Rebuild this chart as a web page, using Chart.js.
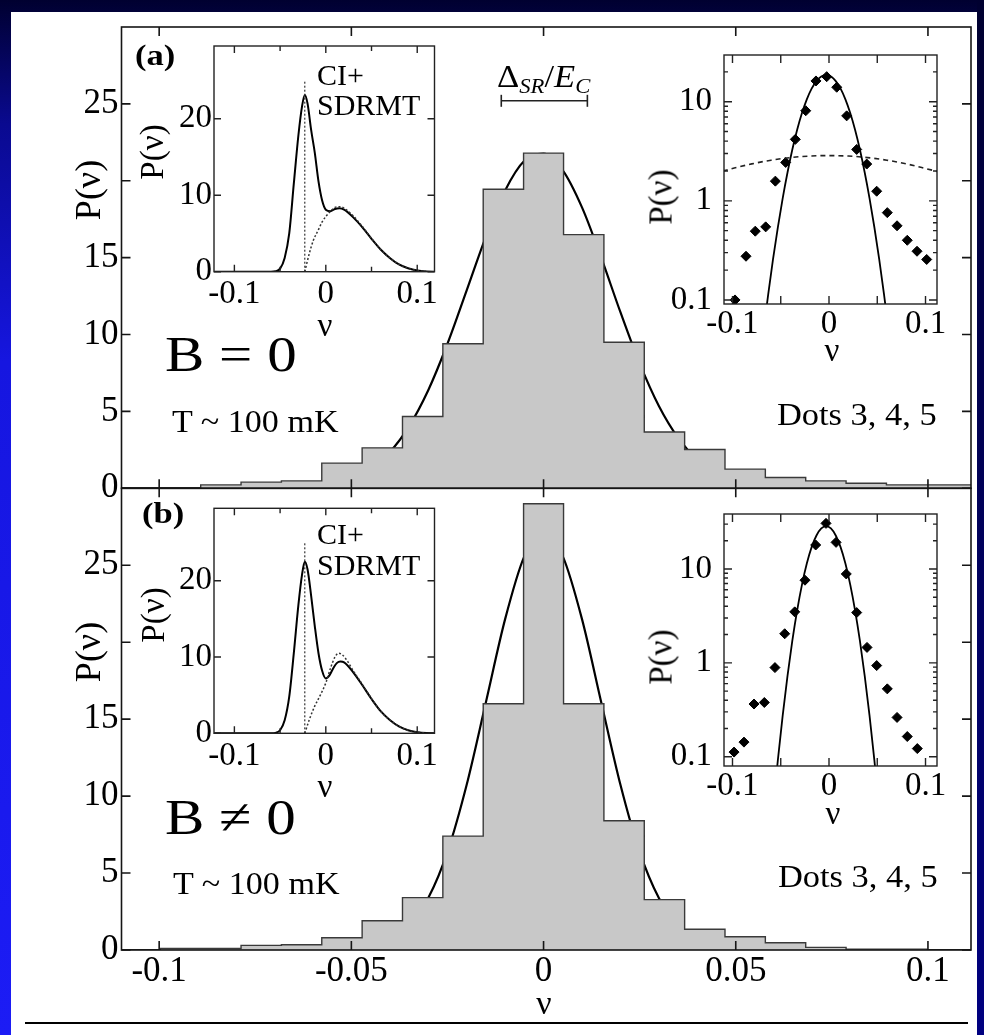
<!DOCTYPE html>
<html><head><meta charset="utf-8">
<script src="https://cdn.jsdelivr.net/npm/chart.js@4.4.1/dist/chart.umd.min.js"></script>
<style>
html,body{margin:0;padding:0;background:#000033;}
#page{position:relative;width:984px;height:1035px;overflow:hidden;background:linear-gradient(180deg,#000030 0%,#0a0a90 12%,#1616e0 35%,#1c1cf5 100%);}
#rstrip{position:absolute;left:977px;top:0;width:7px;height:1035px;background:linear-gradient(180deg,#000030 0%,#00005a 50%,#000080 100%);}
#white{position:absolute;left:11px;top:12px;width:966px;height:1023px;background:#fff;}
canvas{position:absolute;left:0;top:0;}
.t{position:absolute;white-space:nowrap;line-height:1;font-family:'Liberation Serif','Times New Roman',serif;color:#000;transform-origin:0 0;}
.c{position:absolute;white-space:nowrap;line-height:1;font-family:'Liberation Serif','Times New Roman',serif;color:#000;}
#rule{position:absolute;left:25px;top:1022px;width:943px;height:2px;background:#000;}
</style></head><body>
<div id="page">
<div id="rstrip"></div>
<div id="white"></div>
<div id="rule"></div>
<canvas id="mainA" width="984" height="1035"></canvas>
<canvas id="mainB" width="984" height="1035"></canvas>
<canvas id="inLA" width="984" height="1035"></canvas>
<canvas id="inRA" width="984" height="1035"></canvas>
<canvas id="inLB" width="984" height="1035"></canvas>
<canvas id="inRB" width="984" height="1035"></canvas>

<div class="t" style="left:135px;top:40px;font-size:30px;font-weight:bold;transform:scaleX(1.15)">(a)</div>
<div class="t" style="left:142px;top:498px;font-size:30px;font-weight:bold;transform:scaleX(1.15)">(b)</div>
<div class="t" style="left:317px;top:60px;font-size:30px">CI+</div>
<div class="t" style="left:317px;top:90px;font-size:30px">SDRMT</div>
<div class="t" style="left:317px;top:519px;font-size:30px">CI+</div>
<div class="t" style="left:317px;top:550px;font-size:30px">SDRMT</div>
<div class="t" style="left:165px;top:329px;font-size:50px;transform:scaleX(1.18)">B = 0</div>
<div class="t" style="left:165px;top:792px;font-size:50px;transform:scaleX(1.18)">B ≠ 0</div>
<div class="t" style="left:172px;top:406px;font-size:31px;transform:scaleX(1.1)">T ~ 100 mK</div>
<div class="t" style="left:173px;top:868px;font-size:31px;transform:scaleX(1.1)">T ~ 100 mK</div>
<div class="t" style="left:777px;top:399px;font-size:31px;transform:scaleX(1.11)">Dots 3, 4, 5</div>
<div class="t" style="left:778px;top:861px;font-size:31px;transform:scaleX(1.11)">Dots 3, 4, 5</div>
<div class="t" style="left:497px;top:60px;font-size:32px;transform:scaleX(1.08)">Δ<sub style="font-size:21px;font-style:italic;vertical-align:-6px">SR</sub>/<i>E</i><sub style="font-size:21px;font-style:italic;vertical-align:-6px">C</sub></div>

<div class="c" style="left:88px;top:190px;font-size:36px;transform:translate(-50%,-50%) rotate(-90deg)">P(ν)</div>
<div class="c" style="left:88px;top:652px;font-size:36px;transform:translate(-50%,-50%) rotate(-90deg)">P(ν)</div>
<div class="c" style="left:152px;top:152px;font-size:33px;transform:translate(-50%,-50%) rotate(-90deg)">P(ν)</div>
<div class="c" style="left:153px;top:615px;font-size:33px;transform:translate(-50%,-50%) rotate(-90deg)">P(ν)</div>
<div class="c" style="left:661px;top:197px;font-size:33px;transform:translate(-50%,-50%) rotate(-90deg)">P(ν)</div>
<div class="c" style="left:661px;top:657px;font-size:33px;transform:translate(-50%,-50%) rotate(-90deg)">P(ν)</div>
<div class="c" style="left:544px;top:1003px;font-size:34px;transform:translate(-50%,-50%)">ν</div>
<div class="c" style="left:325px;top:325px;font-size:33px;transform:translate(-50%,-50%)">ν</div>
<div class="c" style="left:325px;top:786px;font-size:33px;transform:translate(-50%,-50%)">ν</div>
<div class="c" style="left:832px;top:350px;font-size:33px;transform:translate(-50%,-50%)">ν</div>
<div class="c" style="left:833px;top:813px;font-size:33px;transform:translate(-50%,-50%)">ν</div>
</div>

<script>
// ---------------- DATA ----------------
// histogram bin edges (shared by both panels)
const binEdges = [-0.1102, -0.0997, -0.0892, -0.0787, -0.0682, -0.0577, -0.0472, -0.0367, -0.0262, -0.0157, -0.0052,
                  0.0052, 0.0157, 0.0262, 0.0367, 0.0472, 0.0577, 0.0682, 0.0787, 0.0892, 0.0997, 0.1112];
const histA = [0.04, 0.04, 0.22, 0.40, 0.48, 1.64, 2.63, 4.67, 9.4, 19.45, 21.8, 16.5, 9.5, 3.66, 2.52, 1.25, 0.70, 0.48, 0.33, 0.22, 0.22];
const histB = [0, 0.1, 0.1, 0.3, 0.34, 0.8, 1.9, 3.4, 7.4, 16.0, 29.0, 16.0, 8.4, 3.27, 1.35, 0.86, 0.47, 0.17, 0.06, 0.06, 0];

// fitted curves in main panels
const gaussAX = [-0.11, -0.075, -0.07, -0.065, -0.06, -0.055, -0.05, -0.045, -0.04, -0.035, -0.03, -0.025, -0.02, -0.015, -0.01, -0.005, 0, 0.005, 0.01, 0.015, 0.02, 0.025, 0.03, 0.035, 0.04, 0.045, 0.05, 0.055, 0.06, 0.065, 0.07, 0.075, 0.111];
const gaussAY = [0, 0.005, 0.021, 0.055, 0.135, 0.308, 0.653, 1.29, 2.36, 4.03, 6.38, 9.40, 12.87, 16.37, 19.37, 21.30, 21.77, 20.68, 18.27, 15.00, 11.45, 8.12, 5.35, 3.28, 1.87, 0.99, 0.49, 0.22, 0.095, 0.038, 0.014, 0.005, 0];
const gaussBX = [-0.11, -0.065, -0.06, -0.055, -0.05, -0.045, -0.04, -0.035, -0.03, -0.025, -0.02, -0.015, -0.01, -0.005, 0, 0.005, 0.01, 0.015, 0.02, 0.025, 0.03, 0.035, 0.04, 0.045, 0.05, 0.055, 0.06, 0.065, 0.111];
const gaussBY = [0, 0.001, 0.0065, 0.025, 0.083, 0.25, 0.669, 1.59, 3.38, 6.38, 10.74, 16.10, 21.50, 25.58, 27.1, 25.58, 21.50, 16.10, 10.74, 6.38, 3.38, 1.59, 0.669, 0.25, 0.083, 0.025, 0.0065, 0.001, 0];

// Delta_SR / E_C scale bar
const deltaBarX = [-0.011, 0.0114];
const deltaBarY = [25.2, 25.2];

// left insets: CI+SDRMT curves
const ciASolidX = [-0.122, -0.06, -0.055, -0.05, -0.045, -0.04, -0.035, -0.03, -0.026, -0.023, -0.02, -0.016, -0.012, -0.008, -0.004, 0, 0.005, 0.01, 0.015, 0.02, 0.03, 0.04, 0.05, 0.06, 0.07, 0.08, 0.09, 0.1, 0.11, 0.122];
const ciASolidY = [0, 0, 0.05, 0.4, 1.8, 5.0, 11.5, 17.8, 21.6, 23.1, 22.0, 18.5, 15.5, 11.8, 9.3, 8.1, 7.9, 8.2, 8.3, 8.1, 7.1, 5.8, 4.3, 2.9, 1.8, 0.95, 0.45, 0.15, 0.03, 0];
const ciADotX = [-0.023, -0.018, -0.0136, -0.008, -0.004, 0, 0.005, 0.01, 0.015, 0.02, 0.03, 0.04, 0.05, 0.06, 0.07, 0.08, 0.09, 0.1, 0.11];
const ciADotY = [0, 2.4, 4.1, 5.5, 6.5, 7.2, 7.9, 8.4, 8.5, 8.3, 7.3, 5.9, 4.35, 2.9, 1.8, 0.95, 0.45, 0.15, 0.03];
const ciBSolidX = [-0.122, -0.06, -0.055, -0.05, -0.045, -0.04, -0.035, -0.03, -0.026, -0.023, -0.02, -0.016, -0.012, -0.008, -0.004, 0, 0.004, 0.008, 0.012, 0.016, 0.02, 0.03, 0.04, 0.05, 0.06, 0.07, 0.08, 0.09, 0.1, 0.11, 0.122];
const ciBSolidY = [0, 0, 0.05, 0.4, 1.7, 4.8, 10.5, 16.8, 20.8, 22.5, 21.5, 18.0, 14.0, 10.5, 8.2, 7.2, 7.6, 8.5, 9.2, 9.4, 9.3, 8.0, 6.3, 4.5, 2.9, 1.75, 0.9, 0.4, 0.15, 0.03, 0];
const ciBDotX = [-0.023, -0.018, -0.012, -0.006, 0, 0.005, 0.01, 0.014, 0.018, 0.024, 0.03, 0.04, 0.05, 0.06, 0.07, 0.08, 0.09, 0.1, 0.11];
const ciBDotY = [0, 1.8, 3.6, 5.0, 6.6, 8.5, 10.0, 10.5, 10.3, 9.4, 8.2, 6.4, 4.55, 2.9, 1.75, 0.9, 0.4, 0.15, 0.03];
const ciAVertX = [-0.023, -0.023], ciAVertY = [0, 25.0];
const ciBVertX = [-0.023, -0.023], ciBVertY = [0, 25.1];

// right insets: log-scale dots and curves
const dotsAX = [-0.0974, -0.0860, -0.0764, -0.0656, -0.0556, -0.0449, -0.0349, -0.0241, -0.0135, -0.0024, 0.0080, 0.0183, 0.0287, 0.0391, 0.0494, 0.0604, 0.0705, 0.0811, 0.0912, 0.1012];
const dotsAY = [0.10, 0.276, 0.494, 0.546, 1.58, 2.44, 4.17, 8.11, 16.2, 17.9, 14.0, 7.2, 3.30, 2.35, 1.25, 0.76, 0.56, 0.40, 0.31, 0.256];
const dotsBX = [-0.0984, -0.0881, -0.0777, -0.0670, -0.0560, -0.0459, -0.0355, -0.0249, -0.0138, -0.0031, 0.0073, 0.0179, 0.0287, 0.0394, 0.0494, 0.0604, 0.0705, 0.0811, 0.0915];
const dotsBY = [0.112, 0.143, 0.364, 0.378, 0.89, 2.04, 3.49, 7.59, 18.0, 30.6, 19.2, 8.85, 3.43, 1.46, 0.935, 0.528, 0.262, 0.164, 0.122];
const logGaussAX = [-0.073, -0.068, -0.063, -0.058, -0.053, -0.048, -0.043, -0.038, -0.033, -0.028, -0.023, -0.018, -0.013, -0.008, -0.003, 0.002, 0.007, 0.012, 0.017, 0.022, 0.027, 0.032, 0.037, 0.042, 0.047, 0.052, 0.057, 0.062, 0.067];
const logGaussAY = [0.018, 0.047, 0.114, 0.258, 0.541, 1.06, 1.93, 3.29, 5.21, 7.68, 10.56, 13.53, 16.15, 17.95, 18.6, 17.95, 16.15, 13.53, 10.56, 7.68, 5.21, 3.29, 1.93, 1.06, 0.541, 0.258, 0.114, 0.047, 0.018];
const logGaussBX = [-0.058, -0.053, -0.048, -0.043, -0.038, -0.033, -0.028, -0.023, -0.018, -0.013, -0.008, -0.003, 0.002, 0.007, 0.012, 0.017, 0.022, 0.027, 0.032, 0.037, 0.042, 0.047, 0.052];
const logGaussBY = [0.0276, 0.092, 0.274, 0.727, 1.72, 3.62, 6.81, 11.42, 17.07, 22.73, 27.0, 28.6, 27.0, 22.73, 17.07, 11.42, 6.81, 3.62, 1.72, 0.727, 0.274, 0.092, 0.0276];
const dashAX = [-0.11, -0.1, -0.08, -0.06, -0.04, -0.02, 0, 0.02, 0.04, 0.06, 0.08, 0.1, 0.112];
const dashAY = [2.00, 2.12, 2.36, 2.57, 2.73, 2.83, 2.86, 2.83, 2.73, 2.57, 2.36, 2.12, 1.98];

// tick values
const mainXTicks = [-0.1, -0.05, 0, 0.05, 0.1];
const mainYTicks = [0, 5, 10, 15, 20, 25];
const mainYLabels = [0, 5, 10, 15, 25];
const insetXLabels = [-0.1, 0, 0.1];
const insetXMinor = [-0.05, 0.05];
const insetYTicks = [0, 10, 20];
const logXTicks = [-0.1, -0.05, 0, 0.05, 0.1];
const logYLabels = [0.1, 1, 10];
const logYMinor = [0.2, 0.3, 0.4, 0.5, 0.6, 0.7, 0.8, 0.9, 2, 3, 4, 5, 6, 7, 8, 9, 20, 30];

// ---------------- HELPERS ----------------
const FONT = "'Liberation Serif', 'Times New Roman', serif";
const zip = (xs, ys) => xs.map((x, i) => ({x, y: ys[i]}));
function histPoints(edges, h) {
  const pts = [];
  for (let i = 0; i < h.length; i++) { pts.push({x: edges[i], y: h[i]}, {x: edges[i + 1], y: h[i]}); }
  return pts;
}
function pad(L, T, R, B, yW, xH) { return {left: L - yW, top: T, right: 984 - R, bottom: 1035 - B - xH}; }

const framePlugin = {
  id: 'frame',
  beforeDraw(chart, args, o) {
    if (!o.bg) return;
    const a = chart.chartArea, c = chart.ctx;
    c.save(); c.fillStyle = '#fff'; c.fillRect(a.left, a.top, a.width, a.height); c.restore();
  },
  afterDraw(chart, args, o) {
    const a = chart.chartArea, c = chart.ctx, xs = chart.scales.x, ys = chart.scales.y;
    c.save();
    c.strokeStyle = o.color || '#111'; c.lineWidth = o.lw || 1.5;
    c.beginPath();
    const vx = (vals, len) => (vals || []).forEach(v => {
      const p = xs.getPixelForValue(v);
      c.moveTo(p, a.bottom); c.lineTo(p, a.bottom - len);
      c.moveTo(p, a.top); c.lineTo(p, a.top + len);
    });
    const vy = (vals, len) => (vals || []).forEach(v => {
      const p = ys.getPixelForValue(v);
      if (p < a.top || p > a.bottom) return;
      c.moveTo(a.left, p); c.lineTo(a.left + len, p);
      c.moveTo(a.right, p); c.lineTo(a.right - len, p);
    });
    vx(o.xMajor, o.len); vx(o.xMinor, o.minLen);
    vy(o.yMajor, o.len); vy(o.yMinor, o.minLen);
    c.stroke();
    c.strokeRect(a.left, a.top, a.width, a.height);
    c.restore();
  }
};

const noGrid = {display: false, drawTicks: false};
const base = (padding, frame) => ({
  responsive: false, animation: false, events: [],
  layout: {padding},
  plugins: {legend: {display: false}, tooltip: {enabled: false}, frame},
  elements: {point: {radius: 0}, line: {tension: 0}}
});
const setTicks = vals => (s => { s.ticks = vals.map(v => ({value: v})); });
const lbl = v => String(v);

// ---------------- MAIN PANELS ----------------
function mainChart(id, T, B, hist, gx, gy, withLabels, extra) {
  const xH = withLabels ? 50 : 0;
  const opts = base(pad(121.5, T, 971, B, 121.5, xH),
    {xMajor: mainXTicks, yMajor: mainYTicks, len: 9, lw: 1.6, color: '#151515'});
  opts.scales = {
    x: {type: 'linear', min: -0.1098, max: 0.1112,
        afterBuildTicks: setTicks(mainXTicks),
        ticks: {display: withLabels, autoSkip: false, maxRotation: 0, padding: 1, color: '#000',
                font: {family: FONT, size: 35}, callback: lbl},
        grid: noGrid, border: {display: false},
        afterFit: s => { s.height = xH; }},
    y: {type: 'linear', min: 0, max: 30,
        afterBuildTicks: setTicks(mainYLabels),
        ticks: {autoSkip: false, padding: 3, color: '#000', font: {family: FONT, size: 35}, callback: lbl},
        grid: noGrid, border: {display: false},
        afterFit: s => { s.width = 121.5; }}
  };
  const ds = [
    {data: histPoints(binEdges, hist), borderColor: '#3a3a3a', borderWidth: 1.4, backgroundColor: '#c8c8c8', fill: 'origin', pointRadius: 0},
    {data: zip(gx, gy), borderColor: '#000', borderWidth: 2.2, fill: false, pointRadius: 0, cubicInterpolationMode: 'monotone'}
  ].concat(extra || []);
  return new Chart(document.getElementById(id), {type: 'line', data: {datasets: ds}, options: opts, plugins: [framePlugin]});
}

mainChart('mainA', 27, 488.3, histA, gaussAX, gaussAY, false, [
  {data: zip(deltaBarX, deltaBarY), borderColor: '#222', borderWidth: 1.6, fill: false,
   pointStyle: 'line', pointRadius: 6, pointRotation: 90, pointBorderWidth: 1.6, pointBorderColor: '#222', clip: false}
]);
mainChart('mainB', 488.3, 950, histB, gaussBX, gaussBY, true);

// ---------------- LEFT INSETS ----------------
function leftInset(id, T, B, sx, sy, dx, dy, vx, vy) {
  const opts = base(pad(214, T, 434.5, B, 60, 40),
    {xMajor: insetXLabels, xMinor: insetXMinor, yMajor: insetYTicks, len: 7, minLen: 5, lw: 1.4, color: '#222', bg: true});
  opts.scales = {
    x: {type: 'linear', min: -0.1223, max: 0.1189,
        afterBuildTicks: setTicks(insetXLabels),
        ticks: {autoSkip: false, maxRotation: 0, padding: 3, color: '#000', font: {family: FONT, size: 33}, callback: lbl},
        grid: noGrid, border: {display: false}, afterFit: s => { s.height = 40; }},
    y: {type: 'linear', min: 0, max: 29.5,
        afterBuildTicks: setTicks(insetYTicks),
        ticks: {autoSkip: false, padding: 2, color: '#000', font: {family: FONT, size: 33}, callback: lbl},
        grid: noGrid, border: {display: false}, afterFit: s => { s.width = 60; }}
  };
  const ds = [
    {data: zip(vx, vy), borderColor: '#333', borderWidth: 1.2, borderDash: [2, 2], pointRadius: 0},
    {data: zip(dx, dy), borderColor: '#333', borderWidth: 1.5, borderDash: [2, 2], pointRadius: 0, cubicInterpolationMode: 'monotone'},
    {data: zip(sx, sy), borderColor: '#000', borderWidth: 2, pointRadius: 0, cubicInterpolationMode: 'monotone'}
  ];
  return new Chart(document.getElementById(id), {type: 'line', data: {datasets: ds}, options: opts, plugins: [framePlugin]});
}
leftInset('inLA', 46, 271.7, ciASolidX, ciASolidY, ciADotX, ciADotY, ciAVertX, ciAVertY);
leftInset('inLB', 508.3, 733.3, ciBSolidX, ciBSolidY, ciBDotX, ciBDotY, ciBVertX, ciBVertY);

// ---------------- RIGHT (LOG) INSETS ----------------
function rightInset(id, T, B, ymin, ymax, dX, dY, gX, gY, extra) {
  const opts = base(pad(724, T, 937, B, 80, 40),
    {xMajor: logXTicks, yMajor: logYLabels, yMinor: logYMinor, len: 8, minLen: 4, lw: 1.4, color: '#222', bg: true});
  opts.scales = {
    x: {type: 'linear', min: -0.1088, max: 0.1119,
        afterBuildTicks: setTicks(insetXLabels),
        ticks: {autoSkip: false, maxRotation: 0, padding: 1, color: '#000', font: {family: FONT, size: 33}, callback: lbl},
        grid: noGrid, border: {display: false}, afterFit: s => { s.height = 40; }},
    y: {type: 'logarithmic', min: ymin, max: ymax,
        afterBuildTicks: setTicks(logYLabels),
        ticks: {autoSkip: false, padding: 12, color: '#000', font: {family: FONT, size: 33}, callback: lbl},
        grid: noGrid, border: {display: false}, afterFit: s => { s.width = 80; }}
  };
  const ds = [
    {data: zip(gX, gY), borderColor: '#000', borderWidth: 1.8, pointRadius: 0, cubicInterpolationMode: 'monotone'}
  ].concat(extra || []).concat([
    {data: zip(dX, dY), showLine: false, pointStyle: 'rectRot', pointRadius: 5, backgroundColor: '#000', borderColor: '#000', pointBackgroundColor: '#000'}
  ]);
  return new Chart(document.getElementById(id), {type: 'line', data: {datasets: ds}, options: opts, plugins: [framePlugin]});
}
rightInset('inRA', 55, 304, 0.091, 29.6, dotsAX, dotsAY, logGaussAX, logGaussAY, [
  {data: zip(dashAX, dashAY), borderColor: '#222', borderWidth: 1.6, borderDash: [5, 4], pointRadius: 0, cubicInterpolationMode: 'monotone'}
]);
rightInset('inRB', 514, 766, 0.0796, 38.5, dotsBX, dotsBY, logGaussBX, logGaussBY);
</script>
</body></html>
